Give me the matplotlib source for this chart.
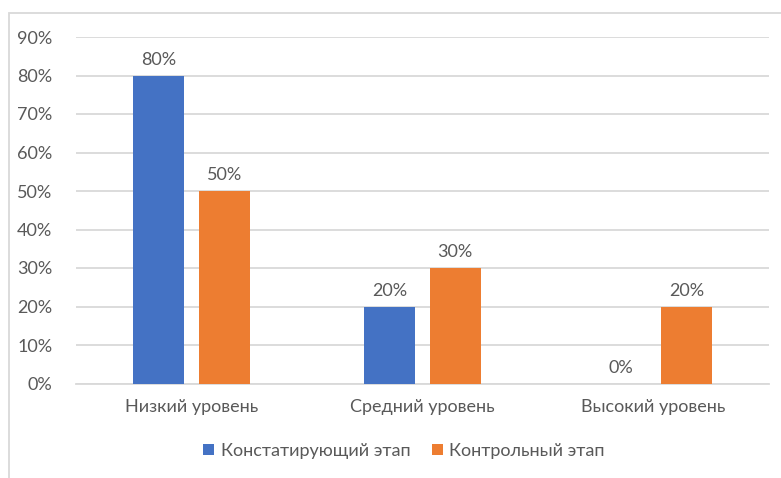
import matplotlib
matplotlib.use("Agg")
import matplotlib.pyplot as plt
from matplotlib.patches import Rectangle
import numpy as np

categories = ["Низкий уровень", "Средний уровень", "Высокий уровень"]
series_names = ["Констатирующий этап", "Контрольный этап"]
constat = [80, 20, 0]
control = [50, 30, 20]
yticks = [0, 10, 20, 30, 40, 50, 60, 70, 80, 90]

plt.rcParams['font.family'] = ['Lato', 'DejaVu Sans']
W, H = 781, 478
fig = plt.figure(figsize=(W/100, H/100), dpi=100)
ax = fig.add_axes([76/W, 1-383.5/H, 693/W, (383.5-37)/H])

txt = '#595959'
fs = 13
x = np.arange(len(categories))
bw = 0.22
off = 0.142
b1 = ax.bar(x - off, constat, bw, color='#4472C4', label=series_names[0], zorder=3)
b2 = ax.bar(x + off, control, bw, color='#ED7D31', label=series_names[1], zorder=3)
for bars, vals in ((b1, constat), (b2, control)):
    for r, v in zip(bars, vals):
        ax.text(r.get_x() + r.get_width()/2, v + 2.0, f"{v}%", ha='center', va='bottom',
                fontsize=fs, color=txt)

ax.set_xlim(-0.5, 2.5)
ax.set_ylim(0, 90)
ax.set_yticks(yticks)
ax.set_yticklabels([f"{t}%" for t in yticks], fontsize=fs, color=txt)
ax.set_xticks(x)
ax.set_xticklabels(categories, fontsize=fs, color=txt)
ax.tick_params(axis='both', length=0)
ax.tick_params(axis='y', pad=17)
ax.tick_params(axis='x', pad=11)
ax.grid(axis='y', color='#D9D9D9', linewidth=1.3, zorder=0)
for s in ['top', 'right', 'left']:
    ax.spines[s].set_visible(False)
ax.spines['bottom'].set_color('#D9D9D9')
ax.spines['bottom'].set_linewidth(1.3)

leg = fig.legend(handles=[b1, b2], labels=series_names, loc='center',
                 bbox_to_anchor=(404/W, 1-451/H), ncol=2, frameon=False,
                 fontsize=fs, handlelength=0.6, handleheight=0.6, handletextpad=0.35,
                 columnspacing=1.2)
for t in leg.get_texts():
    t.set_color(txt)

fig.patches.append(Rectangle((9/W, -0.1), 1.2, 1-13/H+0.1, transform=fig.transFigure,
                             fill=False, edgecolor='#D9D9D9', linewidth=1.3))

fig.savefig("out.png", dpi=100)
